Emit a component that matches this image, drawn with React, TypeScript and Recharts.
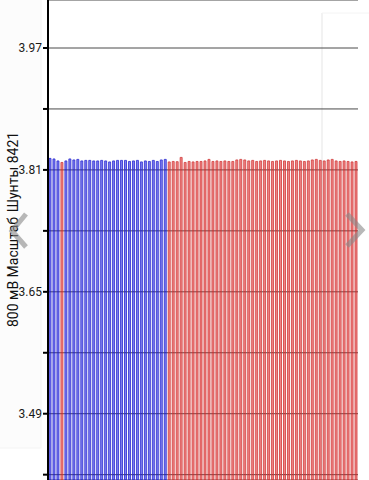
import React from "react";
import { Bar, BarChart, CartesianGrid, Cell, XAxis, YAxis } from "recharts";

// left block of bars (mostly blue), one red bar inside it
const leftValues: number[] = [
  3.8251, 3.8244, 3.8218, 3.8198, 3.8218, 3.8244, 3.8231, 3.8238, 3.8218, 3.8225,
  3.8225, 3.8218, 3.8218, 3.8225, 3.8218, 3.8205, 3.8218, 3.8225, 3.8225, 3.8225,
  3.8211, 3.8218, 3.8225, 3.8205, 3.8218, 3.8211, 3.8225, 3.8211, 3.8231, 3.8238
];
const redInLeft: number[] = [3];

// right block of bars (red)
const rightValues: number[] = [
  3.8205, 3.8211, 3.8208, 3.8264, 3.8198, 3.8211, 3.8205, 3.8211, 3.8211, 3.8218,
  3.8238, 3.8211, 3.8218, 3.8211, 3.8218, 3.8211, 3.8211, 3.8231, 3.8238, 3.8231,
  3.8218, 3.8225, 3.8211, 3.8218, 3.8225, 3.8218, 3.8211, 3.8218, 3.8225, 3.8218,
  3.8211, 3.8218, 3.8225, 3.8218, 3.8211, 3.8218, 3.8231, 3.8238, 3.8225, 3.8218,
  3.8231, 3.8238, 3.8218, 3.8211, 3.8218, 3.8211, 3.8205, 3.8211
];

const yTicks: number[] = [3.41, 3.49, 3.57, 3.65, 3.73, 3.81, 3.89, 3.97];
const labeledTicks: number[] = [3.49, 3.65, 3.81, 3.97];
const yDomain: [number, number] = [3.403, 4.033];
const axisTitleParts = ["800 мВ Масштаб", "Шунты 8421"];

const BLUE = { fill: "#0000e0", stroke: "#2a2ad0" };
const RED = { fill: "#e01010", stroke: "#d03a3a" };

const data = [
  ...leftValues.map((v, i) => ({ idx: i, value: v, red: redInLeft.includes(i) })),
  ...rightValues.map((v, i) => ({ idx: leftValues.length + i, value: v, red: true }))
];

const YTick = (props: any) => {
  const { x, y, payload } = props;
  const v = Math.round(payload.value * 100) / 100;
  if (!labeledTicks.includes(v)) return null;
  return (
    <text x={x + 1} y={y} dy={4} textAnchor="end" fontSize={12} fill="#1a1a1a" fontFamily="Roboto">
      {v.toFixed(2)}
    </text>
  );
};

// two parts of the rotated title, with a wider gap between them
const AxisTitle = () => (
  <g fontSize={14} fill="#111" fontFamily="Roboto">
    <text x={13} y={272} transform="rotate(-90 13 272)" textAnchor="middle" dominantBaseline="central">
      {axisTitleParts[0]}
    </text>
    <text x={13} y={172} transform="rotate(-90 13 172)" textAnchor="middle" dominantBaseline="central">
      {axisTitleParts[1]}
    </text>
  </g>
);

export default function App() {
  return (
    <div style={{ position: "absolute", left: 0, top: 0, width: 369, height: 480, background: "#fff", overflow: "hidden" }}>
      {/* faint panel edges behind the chart */}
      <svg width={369} height={480} style={{ position: "absolute", left: 0, top: 0 }}>
        <rect x={-1} y={-1} width={42} height={449} fill="#fcfcfc" stroke="#f4f4f4" />
        <line x1={322} y1={13} x2={322} y2={480} stroke="#f2f2f2" strokeWidth={2} />
        <line x1={322} y1={13} x2={369} y2={13} stroke="#f4f4f4" />
      </svg>
      <div style={{ position: "absolute", left: 0, top: 0 }}>
        <BarChart
          width={369}
          height={480}
          data={data}
          margin={{ top: 0, right: 11, bottom: 0, left: 0 }}
          barCategoryGap={1}
        >
          <CartesianGrid horizontal vertical={false} stroke="#4a4a4a" strokeWidth={1} />
          <XAxis dataKey="idx" hide />
          <YAxis
            width={48}
            domain={yDomain}
            ticks={yTicks}
            allowDataOverflow
            interval={0}
            axisLine={{ stroke: "#000", strokeWidth: 2 }}
            tickLine={{ stroke: "#000", strokeWidth: 2 }}
            tickSize={5}
            tick={<YTick />}
            label={{ content: <AxisTitle /> }}
          />
          <Bar dataKey="value" isAnimationActive={false} strokeWidth={0.8}>
            {data.map((d) => (
              <Cell
                key={d.idx}
                fill={d.red ? RED.fill : BLUE.fill}
                fillOpacity={0.5}
                stroke={d.red ? RED.stroke : BLUE.stroke}
              />
            ))}
          </Bar>
        </BarChart>
      </div>
      {/* page arrows */}
      <svg width={369} height={480} style={{ position: "absolute", left: 0, top: 0, pointerEvents: "none" }}>
        <polyline points="26,214 12,231 26,247" fill="none" stroke="#888" strokeOpacity={0.6} strokeWidth={5} />
        <polyline points="347,214 362,230 347,246" fill="none" stroke="#888" strokeOpacity={0.6} strokeWidth={5} />
      </svg>
    </div>
  );
}
